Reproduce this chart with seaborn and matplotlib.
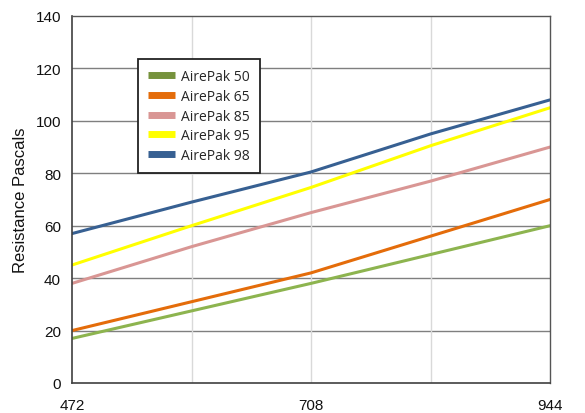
import matplotlib
matplotlib.use("Agg")
import matplotlib.pyplot as plt
import seaborn as sns
import pandas as pd
from matplotlib.lines import Line2D

airflow = [472, 590, 708, 826, 944]
series_names = ["AirePak 50", "AirePak 65", "AirePak 85", "AirePak 95", "AirePak 98"]
airepak_50 = [17, 27.5, 38, 49, 60]
airepak_65 = [20, 31, 42, 56, 70]
airepak_85 = [38, 52, 65, 77, 90]
airepak_95 = [45, 60, 74.6, 90.5, 105]
airepak_98 = [57, 69, 80.5, 95, 108]
x_tick_labels = ["472", "708", "944"]
y_ticks = [0, 20, 40, 60, 80, 100, 120, 140]

colors = ["#8DB44F", "#E46C0A", "#D99694", "#FFFF00", "#376092"]
legend_colors = ["#76923C", "#E46C0A", "#D99694", "#FFFF00", "#376092"]

rows = []
for name, vals in zip(series_names, [airepak_50, airepak_65, airepak_85, airepak_95, airepak_98]):
    for x, v in zip(airflow, vals):
        rows.append({"Airflow": x, "Resistance": v, "Series": name})
df = pd.DataFrame(rows)

sns.set_style("white")
plt.rcParams["font.family"] = ["Liberation Sans", "DejaVu Sans"]

fig = plt.figure(figsize=(5.85, 4.14), dpi=100)
ax = fig.add_axes([72/585, 30/414, 478/585, 367/414])

sns.lineplot(data=df, x="Airflow", y="Resistance", hue="Series",
             palette=dict(zip(series_names, colors)), linewidth=2.2,
             ax=ax, legend=False)

ax.set_xlim(472, 944)
ax.set_ylim(0, 140)
ax.set_yticks(y_ticks)
ax.set_xticks([472, 708, 944])
ax.set_xticklabels(x_tick_labels)
ax.set_xticks([590, 826], minor=True)

# gridlines
ax.grid(False)
for y in y_ticks[1:-1]:
    ax.axhline(y, color="#7f7f7f", lw=1.0, zorder=0)
for x in [590, 708, 826]:
    ax.axvline(x, color="#d9d9d9", lw=1.0, zorder=0)

for s in ["left", "bottom"]:
    ax.spines[s].set_color("#404040")
    ax.spines[s].set_linewidth(1.2)
for s in ["top", "right"]:
    ax.spines[s].set_color("#555555")
    ax.spines[s].set_linewidth(1.0)

ax.tick_params(axis="both", which="major", direction="out", length=5, width=1,
               color="#404040", labelsize=11, labelcolor="#111111", pad=3)
ax.tick_params(axis="x", which="minor", length=0)
ax.tick_params(axis="x", pad=6)
ax.set_xlabel("")
ax.set_ylabel("Resistance Pascals", fontsize=12, color="#111111", labelpad=5)

handles = [Line2D([0], [0], color=c, lw=5, solid_capstyle="butt") for c in legend_colors]
leg = ax.legend(handles, series_names, loc="upper left", bbox_to_anchor=(0.138, 0.883),
                frameon=True, fancybox=False, framealpha=1, edgecolor="#222222",
                prop={"family": "Open Sans", "size": 10}, handlelength=1.9,
                handletextpad=0.45, labelspacing=0.33, borderpad=0.75,
                borderaxespad=0)
leg.get_frame().set_linewidth(1.3)

fig.savefig("out.png", dpi=100)
